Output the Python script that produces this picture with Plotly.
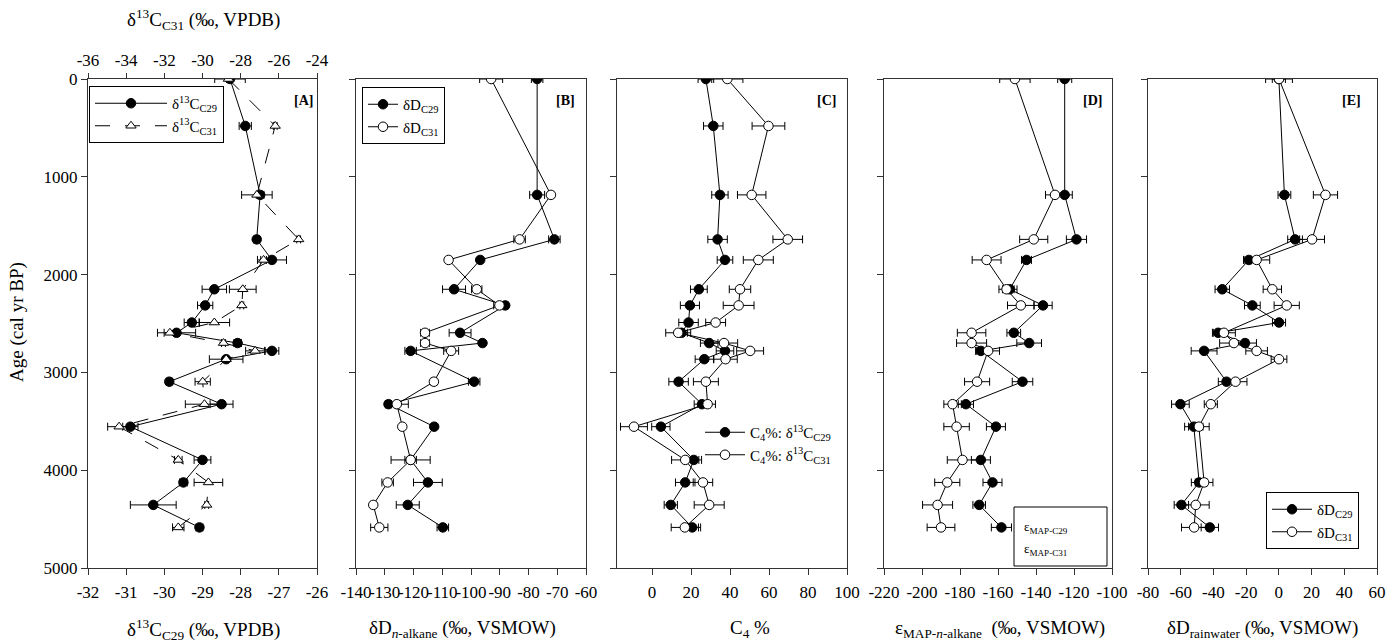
import plotly.graph_objects as go

W, H = 1400, 643
def px(x): return x / W
def py(y): return 1 - y / H

FONT = "'Liberation Serif', 'Times New Roman', Times, serif"

# ---------------- data ----------------
age_A = [0, 480, 1185, 1640, 1850, 2150, 2315, 2490, 2595, 2700, 2780, 2865, 3095, 3325, 3555, 3895, 4125, 4355, 4585]
d13c_c29 = [-28.28, -27.88, -27.49, -27.58, -27.18, -28.69, -28.93, -29.28, -29.68, -28.08, -27.18, -28.38, -29.87, -28.50, -30.89, -29.00, -29.50, -30.29, -29.08]
d13c_c29_err = [0.4, 0.16, 0.1, 0.08, 0.38, 0.32, 0.2, 0.2, 0.5, 0.1, 0.18, 0.44, 0.08, 0.3, 0.2, 0.22, 0.1, 0.6, 0.09]
d13c_c31 = [-28.64, -26.19, -27.15, -24.96, -26.80, -27.89, -27.94, -29.38, -31.71, -28.90, -27.24, -28.76, -29.99, -29.90, -34.37, -31.27, -29.69, -29.78, -31.27]
d13c_c31_err = [0.1, 0.1, 0.8, 0.1, 0.15, 0.7, 0.1, 0.8, 0.3, 0.1, 0.5, 0.1, 0.4, 1.0, 0.6, 0.2, 0.75, 0.1, 0.3]

age_B = [0, 1185, 1640, 1850, 2150, 2315, 2595, 2700, 2780, 3095, 3325, 3555, 3895, 4125, 4355, 4585]
dD_c29 = [-77.0, -77.0, -71.0, -96.8, -105.9, -88.1, -103.8, -96.0, -121.0, -98.9, -128.7, -112.8, -121.0, -115.0, -122.0, -109.8]
dD_c29_err = [2, 2.6, 2, 0.5, 4, 1, 3.8, 1, 2, 2, 1, 0.8, 2, 5, 4, 2]
dD_c31 = [-93.0, -72.2, -83.1, -107.8, -98.0, -90.1, -116.0, -116.0, -106.9, -112.9, -125.8, -123.9, -121.0, -129.0, -134.0, -131.9]
dD_c31_err = [4, 1, 2, 0.5, 1.8, 2, 1.5, 1.5, 2.6, 1, 4, 0.8, 6.8, 2, 1, 3]

age_C = age_A
c4_c29 = [27.6, 31.4, 34.8, 33.6, 37.4, 24.0, 19.4, 18.7, 15.1, 29.3, 37.4, 26.8, 13.6, 25.6, 4.5, 21.4, 17.0, 9.6, 20.6]
c4_c29_err = [4, 5, 4.2, 5, 4, 4.3, 4.9, 5, 3, 4.5, 4.5, 4.7, 5, 4, 4.7, 4, 5, 3.4, 4.3]
c4_c31 = [38.6, 59.7, 51.1, 69.6, 54.5, 45.1, 44.4, 32.6, 13.4, 36.9, 50.3, 37.7, 27.6, 28.5, -9.3, 17.0, 26.1, 29.3, 16.8]
c4_c31_err = [8, 8.4, 7.3, 7.6, 7.7, 5.5, 7.9, 5.1, 6.4, 7, 6.9, 6, 6.4, 4, 6.9, 7, 5, 7.7, 7]

age_D = age_B
eps_c29 = [-124.9, -124.9, -118.7, -145.0, -153.8, -136.3, -151.7, -143.6, -169.0, -147.1, -176.9, -161.1, -169.0, -162.9, -169.9, -158.2]
eps_c29_err = [3.7, 4, 5.3, 2.6, 3.8, 4.8, 3.6, 6.5, 2.8, 5.4, 4, 5, 5, 5, 3.3, 5.3]
eps_c31 = [-151.1, -130.0, -141.2, -166.0, -155.5, -148.0, -173.9, -173.9, -165.2, -171.0, -183.9, -181.8, -178.7, -186.7, -191.8, -190.0]
eps_c31_err = [8, 5, 7.4, 7.6, 4, 7, 7.5, 7.9, 6, 6.6, 4.6, 6.7, 8, 6.6, 7.9, 7.3]

age_E29 = [0, 1185, 1640, 1850, 2150, 2315, 2490, 2595, 2700, 2780, 3095, 3325, 3555, 4125, 4355, 4585]
rain_c29 = [0.0, 3.4, 9.9, -18.3, -34.6, -16.2, 0.1, -37.1, -20.7, -45.7, -32.0, -60.2, -52.0, -48.7, -59.6, -42.2]
rain_c29_err = [4, 3.9, 4.5, 3, 4.4, 4.8, 4, 3, 7, 7.9, 5, 5.4, 5.6, 4.8, 4.4, 5.3]
age_E31 = [0, 1185, 1640, 1850, 2150, 2315, 2595, 2700, 2780, 2865, 3095, 3325, 3555, 4125, 4355, 4585]
rain_c31 = [0.1, 28.5, 20.3, -13.6, -4.0, 4.8, -33.6, -27.5, -13.6, 0.1, -26.5, -41.6, -48.9, -45.7, -50.8, -51.8]
rain_c31_err = [8.2, 7.4, 7.6, 8, 5.6, 7.7, 7, 8.7, 6.6, 4.8, 7, 4, 6.3, 5.4, 8.2, 7.7]

# tick labels
ticks_A29 = [-32, -31, -30, -29, -28, -27, -26]
ticks_A31 = [-36, -34, -32, -30, -28, -26, -24]
ticks_B = [-140, -130, -120, -110, -100, -90, -80, -70, -60]
ticks_C = [0, 20, 40, 60, 80, 100]
ticks_D = [-220, -200, -180, -160, -140, -120, -100]
ticks_E = [-80, -60, -40, -20, 0, 20, 40, 60]
ticks_age = [0, 1000, 2000, 3000, 4000, 5000]

# ---------------- figure ----------------
fig = go.Figure()

def err(vals):
    return dict(type="data", array=vals, symmetric=True, color="black", thickness=1, width=4)

def filled(x, y, e, xa, ya, name, legend=None, show=True):
    return go.Scatter(x=x, y=y, error_x=err(e), mode="lines+markers", xaxis=xa, yaxis=ya,
                      name=name, legend=legend, showlegend=show,
                      line=dict(color="black", width=1),
                      marker=dict(symbol="circle", size=9.5, color="black", line=dict(color="black", width=1)))

def opened(x, y, e, xa, ya, name, legend=None, show=True):
    return go.Scatter(x=x, y=y, error_x=err(e), mode="lines+markers", xaxis=xa, yaxis=ya,
                      name=name, legend=legend, showlegend=show,
                      line=dict(color="black", width=1),
                      marker=dict(symbol="circle", size=9.5, color="white", line=dict(color="black", width=1)))

# Panel A
fig.add_trace(go.Scatter(x=d13c_c31, y=age_A, error_x=err(d13c_c31_err), mode="lines+markers",
                         xaxis="x6", yaxis="y", name="δ<sup>13</sup>C<sub>C31</sub>", legend="legend",
                         line=dict(color="black", width=1, dash="longdash"),
                         marker=dict(symbol="triangle-up", size=9, color="white", line=dict(color="black", width=1))))
fig.add_trace(filled(d13c_c29, age_A, d13c_c29_err, "x", "y", "δ<sup>13</sup>C<sub>C29</sub>", "legend"))

# Panel B
fig.add_trace(filled(dD_c29, age_B, dD_c29_err, "x2", "y2", "δD<sub>C29</sub>", "legend2"))
fig.add_trace(opened(dD_c31, age_B, dD_c31_err, "x2", "y2", "δD<sub>C31</sub>", "legend2"))

# Panel C
fig.add_trace(filled(c4_c29, age_C, c4_c29_err, "x3", "y3", "C<sub>4</sub>%: δ<sup>13</sup>C<sub>C29</sub>", "legend3"))
fig.add_trace(opened(c4_c31, age_C, c4_c31_err, "x3", "y3", "C<sub>4</sub>%: δ<sup>13</sup>C<sub>C31</sub>", "legend3"))

# Panel D
fig.add_trace(filled(eps_c29, age_D, eps_c29_err, "x4", "y4", "ε MAP-C29", show=False))
fig.add_trace(opened(eps_c31, age_D, eps_c31_err, "x4", "y4", "ε MAP-C31", show=False))

# Panel E
fig.add_trace(filled(rain_c29, age_E29, rain_c29_err, "x5", "y5", "δD<sub>C29</sub>", "legend4"))
fig.add_trace(opened(rain_c31, age_E31, rain_c31_err, "x5", "y5", "δD<sub>C31</sub>", "legend4"))

AX = "#333333"
TF = dict(family=FONT, size=17, color="black")
ydom = [py(568), py(79)]

def xax(domain, rng, ticks, anchor):
    return dict(domain=[px(domain[0]), px(domain[1])], range=rng, anchor=anchor,
                tickmode="array", tickvals=ticks, ticktext=[str(t) for t in ticks],
                showline=True, linecolor=AX, linewidth=1, mirror=True, ticks="outside", ticklen=6,
                tickcolor=AX, tickfont=TF, tickangle=0, showgrid=False, zeroline=False,
                ticklabelstandoff=3, automargin=False)

def yax(anchor, labels):
    return dict(domain=ydom, range=[5000, 0], anchor=anchor,
                tickmode="array", tickvals=ticks_age, ticktext=[str(t) for t in ticks_age],
                showline=True, linecolor=AX, linewidth=1, mirror=True, ticks="outside", ticklen=6,
                tickcolor=AX, tickfont=TF, showticklabels=labels, showgrid=False, zeroline=False,
                automargin=False)

xa = xax([88, 317], [-32, -26], ticks_A29, "y")
xa["mirror"] = False
fig.update_layout(
    xaxis=xa,
    xaxis2=xax([356, 586], [-140, -60], ticks_B, "y2"),
    xaxis3=xax([617, 847], [-18, 100], ticks_C, "y3"),
    xaxis4=xax([884, 1112], [-220, -100], ticks_D, "y4"),
    xaxis5=xax([1148, 1377], [-80, 60], ticks_E, "y5"),
    xaxis6=dict(overlaying="x", side="top", anchor="y", range=[-36, -24],
                tickmode="array", tickvals=ticks_A31, ticktext=[str(t) for t in ticks_A31],
                showline=True, linecolor=AX, linewidth=1, ticks="outside", ticklen=5, tickcolor=AX,
                tickfont=TF, tickangle=0, showgrid=False, zeroline=False, ticklabelstandoff=0,
                automargin=False),
    yaxis=yax("x", True),
    yaxis2=yax("x2", False),
    yaxis3=yax("x3", False),
    yaxis4=yax("x4", False),
    yaxis5=yax("x5", False),
)

LF = dict(family=FONT, size=15, color="black")
fig.update_layout(
    legend=dict(x=px(89), y=py(86), xanchor="left", yanchor="top", bordercolor="black", borderwidth=1,
                bgcolor="white", font=LF, itemwidth=72, tracegroupgap=0, traceorder="reversed"),
    legend2=dict(x=px(362), y=py(87), xanchor="left", yanchor="top", bordercolor="black", borderwidth=1,
                 bgcolor="white", font=LF, itemwidth=30),
    legend3=dict(x=px(700), y=py(416), xanchor="left", yanchor="top", borderwidth=0,
                 bgcolor="rgba(0,0,0,0)", font=LF, itemwidth=40),
    legend4=dict(x=px(1266), y=py(492), xanchor="left", yanchor="top", bordercolor="black", borderwidth=1,
                 bgcolor="white", font=LF, itemwidth=40),
)

ann = []
# panel labels
for lab, x in [("[A]", 303), ("[B]", 565), ("[C]", 826), ("[D]", 1092), ("[E]", 1351)]:
    ann.append(dict(text="<b>%s</b>" % lab, x=px(x), y=py(101), xref="paper", yref="paper",
                    xanchor="center", yanchor="middle",
                    showarrow=False, font=dict(family=FONT, size=14, color="black")))
TT = dict(family=FONT, size=19, color="black")
titles = [
    ("δ<sup>13</sup>C<sub>C29</sub> (‰, VPDB)", 203),
    ("δD<sub><i>n</i>-alkane</sub> (‰, VSMOW)", 462),
    ("C<sub>4</sub> %", 750),
    ("ε<sub>MAP-<i>n</i>-alkane</sub>  (‰, VSMOW)", 1000),
    ("δD<sub>rainwater</sub> (‰, VSMOW)", 1262),
]
for t, x in titles:
    ann.append(dict(text=t, x=px(x), y=py(629), xref="paper", yref="paper", showarrow=False,
                    xanchor="center", yanchor="middle", font=TT))
ann.append(dict(text="δ<sup>13</sup>C<sub>C31</sub> (‰, VPDB)", x=px(203), y=py(20), xref="paper",
                yref="paper", showarrow=False, xanchor="center", yanchor="middle", font=TT))
ann.append(dict(text="Age (cal yr BP)", x=px(17), y=py(322), xref="paper", yref="paper",
                showarrow=False, textangle=-90, xanchor="center", yanchor="middle", font=TT))
# panel D legend text
DF = dict(family=FONT, size=13, color="black")
ann.append(dict(text="ε<sub>MAP-C29</sub>", x=px(1022), y=py(527), xref="paper", yref="paper",
                xanchor="left", yanchor="middle", showarrow=False, font=DF))
ann.append(dict(text="ε<sub>MAP-C31</sub>", x=px(1022), y=py(549), xref="paper", yref="paper",
                xanchor="left", yanchor="middle", showarrow=False, font=DF))

fig.update_layout(
    annotations=ann,
    shapes=[dict(type="rect", xref="paper", yref="paper", x0=px(1014), x1=px(1107), y0=py(566), y1=py(507),
                 line=dict(color="black", width=1), fillcolor="white", layer="above")],
    width=W, height=H, margin=dict(l=0, r=0, t=0, b=0, autoexpand=False),
    paper_bgcolor="white", plot_bgcolor="white",
    font=dict(family=FONT, color="black"),
)

fig.write_html("out.html")
